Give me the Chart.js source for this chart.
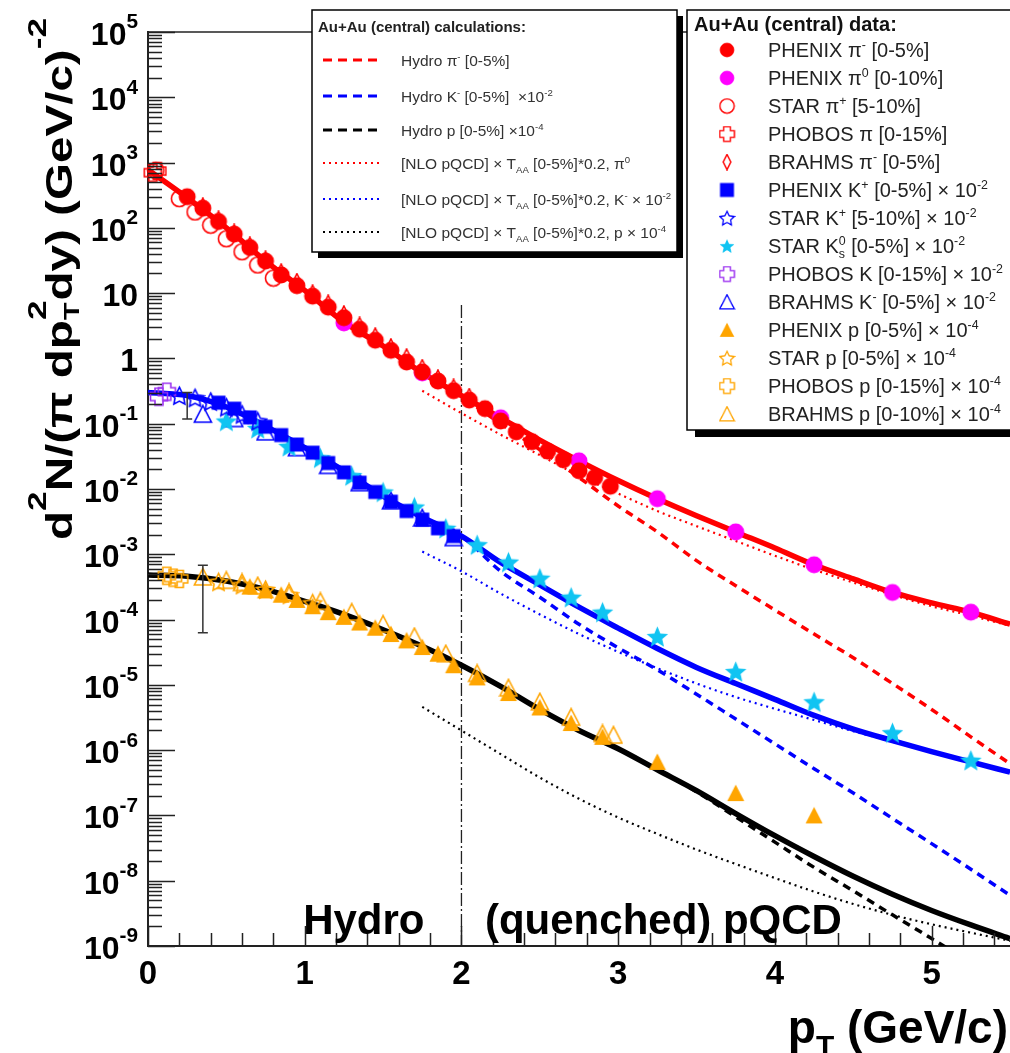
<!DOCTYPE html>
<html>
<head>
<meta charset="utf-8">
<script src="https://cdn.jsdelivr.net/npm/chart.js@4.4.0/dist/chart.umd.min.js"></script>
<style>
  html, body { margin: 0; padding: 0; background: #fff; }
  #wrap { width: 1010px; height: 1053px; }
</style>
</head>
<body>
<div id="wrap"><canvas id="chart" width="1010" height="1053"></canvas></div>
<script>
const FONT = '"Liberation Sans", Arial, Helvetica, sans-serif';
const RED = "#ff0000";
const MAGENTA = "#ff00ff";
const BLUE = "#0000ff";
const CYAN = "#10c4f2";
const PURPLE = "#9a2ff0";
const ORANGE = "#ffa500";
const BLACK = "#000000";

// ---- pions ----
const phenixPiPt = [0.25, 0.35, 0.45, 0.55, 0.65, 0.75, 0.85, 0.95, 1.05, 1.15, 1.25, 1.35, 1.45, 1.55, 1.65, 1.75, 1.85, 1.95, 2.05, 2.15, 2.25, 2.35, 2.45, 2.55, 2.65, 2.75, 2.85, 2.95];
const phenixPiVal = [300, 200, 125, 80, 50, 31, 19, 13, 9, 6.1, 4.2, 2.8, 1.9, 1.33, 0.88, 0.62, 0.45, 0.32, 0.23, 0.17, 0.11, 0.075, 0.053, 0.038, 0.028, 0.019, 0.015, 0.011];
const pi0Pt = [1.25, 1.75, 2.25, 2.75, 3.25, 3.75, 4.25, 4.75, 5.25];
const pi0Val = [3.5, 0.6, 0.123, 0.027, 0.0071, 0.0022, 6.9e-4, 2.6e-4, 1.3e-4];
const starPiPt = [0.05, 0.2, 0.3, 0.4, 0.5, 0.6, 0.7, 0.8];
const starPiVal = [760, 280, 175, 110, 68, 43, 27, 17];
const phobosPiPt = [0.03, 0.06];
const phobosPiVal = [700, 740];
const brahmsPiPt = [0.35, 0.45, 0.55, 0.65, 0.75, 0.85, 0.95, 1.05, 1.15, 1.25, 1.35, 1.45, 1.55, 1.65, 1.75, 1.85, 1.95, 2.05];
const brahmsPiVal = [215, 135, 85, 54, 33, 21, 15, 10, 7, 4.8, 3.2, 2.2, 1.5, 1.05, 0.72, 0.5, 0.36, 0.26];

// ---- kaons (x 10^-2) ----
const phenixKPt = [0.45, 0.55, 0.65, 0.75, 0.85, 0.95, 1.05, 1.15, 1.25, 1.35, 1.45, 1.55, 1.65, 1.75, 1.85, 1.95];
const phenixKVal = [0.21, 0.17, 0.125, 0.09, 0.067, 0.048, 0.036, 0.025, 0.018, 0.0125, 0.009, 0.0064, 0.0046, 0.0034, 0.0025, 0.0019];
const starKPt = [0.2, 0.3, 0.4, 0.5, 0.6, 0.7];
const starKVal = [0.27, 0.25, 0.22, 0.18, 0.14, 0.11];
const starK0Pt = [0.5, 0.7, 0.9, 1.1, 1.3, 1.5, 1.7, 1.9, 2.1, 2.3, 2.5, 2.7, 2.9, 3.25, 3.75, 4.25, 4.75, 5.25];
const starK0Val = [0.11, 0.085, 0.045, 0.03, 0.016, 0.009, 0.0053, 0.0025, 0.0014, 7.6e-4, 4.3e-4, 2.2e-4, 1.3e-4, 5.5e-5, 1.6e-5, 5.5e-6, 1.85e-6, 7e-7];
const phobosKPt = [0.07, 0.12];
const phobosKVal = [0.26, 0.31];
const brahmsKPt = [0.35, 0.55, 0.75, 0.95, 1.15, 1.35, 1.55, 1.75, 1.95];
const brahmsKVal = [0.14, 0.12, 0.075, 0.043, 0.023, 0.0125, 0.0066, 0.0036, 0.0018];

// ---- protons (x 10^-4) ----
const phenixPPt = [0.65, 0.75, 0.85, 0.95, 1.05, 1.15, 1.25, 1.35, 1.45, 1.55, 1.65, 1.75, 1.85, 1.95, 2.1, 2.3, 2.5, 2.7, 2.9, 3.25, 3.75, 4.25];
const phenixPVal = [3.2e-4, 2.8e-4, 2.4e-4, 2.0e-4, 1.6e-4, 1.3e-4, 1.1e-4, 9e-5, 7.5e-5, 6e-5, 4.8e-5, 3.8e-5, 3e-5, 2e-5, 1.3e-5, 7.5e-6, 4.5e-6, 2.6e-6, 1.6e-6, 6.6e-7, 2.2e-7, 1.0e-7];
const starPPt = [0.45, 0.6, 0.75, 0.9, 1.05];
const starPVal = [3.8e-4, 3.4e-4, 2.9e-4, 2.4e-4, 1.8e-4];
const phobosPPt = [0.12, 0.16, 0.2];
const phobosPVal = [4.7e-4, 4.4e-4, 4.2e-4];
const brahmsPPt = [0.35, 0.5, 0.6, 0.7, 0.9, 1.1, 1.3, 1.5, 1.7, 1.9, 2.1, 2.3, 2.5, 2.7, 2.9, 2.97];
const brahmsPVal = [4.5e-4, 4e-4, 3.7e-4, 3.3e-4, 2.6e-4, 1.9e-4, 1.3e-4, 8.5e-5, 5.5e-5, 3e-5, 1.5e-5, 9e-6, 5.5e-6, 3.2e-6, 1.8e-6, 1.7e-6];

// ---- calculations ----
const linePt = [0, 0.25, 0.5, 0.75, 1, 1.25, 1.5, 1.75, 2, 2.25, 2.5, 2.75, 3, 3.25, 3.5, 3.75, 4, 4.25, 4.5, 4.75, 5, 5.25, 5.5];
const piTotal = [780, 290, 100, 31, 11, 3.6, 1.55, 0.6, 0.27, 0.123, 0.056, 0.027, 0.0135, 0.0071, 0.0039, 0.0022, 0.00125, 6.9e-4, 4.2e-4, 2.6e-4, 1.8e-4, 1.3e-4, 8.5e-5];
const piHydro = [780, 290, 100, 31, 11, 3.6, 1.55, 0.6, 0.26, 0.1, 0.04, 0.015, 0.0055, 0.0022, 8e-4, 3.3e-4, 1.4e-4, 6e-5, 2.6e-5, 1.05e-5, 4.2e-6, 1.6e-6, 6.2e-7];
const kTotal = [0.3, 0.27, 0.18, 0.092, 0.043, 0.019, 0.0078, 0.0037, 0.0019, 7.5e-4, 3.4e-4, 1.55e-4, 7.4e-5, 3.6e-5, 1.85e-5, 1.05e-5, 6e-6, 3.4e-6, 2.1e-6, 1.4e-6, 9.5e-7, 6.6e-7, 4.6e-7];
const kHydro = [0.3, 0.27, 0.18, 0.092, 0.043, 0.019, 0.0078, 0.0037, 0.0019, 5.5e-4, 2.2e-4, 8.5e-5, 3.7e-5, 1.7e-5, 7.2e-6, 3e-6, 1.25e-6, 5.2e-7, 2.2e-7, 9e-8, 3.7e-8, 1.5e-8, 6e-9];
const pTotal = [4.8e-4, 4.6e-4, 3.9e-4, 2.9e-4, 1.9e-4, 1.2e-4, 7e-5, 3.9e-5, 2e-5, 9.5e-6, 4.2e-6, 2e-6, 1.05e-6, 5e-7, 2.4e-7, 1.07e-7, 4.9e-8, 2.35e-8, 1.17e-8, 6.2e-9, 3.5e-9, 2.1e-9, 1.3e-9];
const pHydro = [4.8e-4, 4.6e-4, 3.9e-4, 2.9e-4, 1.9e-4, 1.2e-4, 7e-5, 3.9e-5, 2e-5, 9.5e-6, 4.2e-6, 2e-6, 1.05e-6, 5e-7, 2.3e-7, 9.5e-8, 3.9e-8, 1.6e-8, 7e-9, 3e-9, 1.3e-9, 5.5e-10, 2.3e-10];
const pqcdPt = [1.75, 2, 2.25, 2.5, 2.75, 3, 3.25, 3.5, 3.75, 4, 4.25, 4.5, 4.75, 5, 5.25, 5.5];
const piPqcd = [0.32, 0.145, 0.068, 0.033, 0.016, 0.0085, 0.0046, 0.0027, 0.0016, 9.5e-4, 5.8e-4, 3.7e-4, 2.4e-4, 1.6e-4, 1.15e-4, 8e-5];
const kPqcd = [1.1e-3, 5.5e-4, 2.5e-4, 1.2e-4, 6e-5, 3.2e-5, 1.8e-5, 1.05e-5, 6.5e-6, 4.3e-6, 2.9e-6, 1.95e-6, 1.35e-6, 9.3e-7, 6.5e-7, 4.6e-7];
const pPqcd = [4.6e-6, 2e-6, 8.7e-7, 3.8e-7, 1.8e-7, 9.3e-8, 5.2e-8, 3e-8, 1.8e-8, 1.1e-8, 6.8e-9, 4.4e-9, 3e-9, 2.15e-9, 1.6e-9, 1.2e-9];

// hydro / pQCD boundary and error bars
const boundaryPt = [2, 2];
const boundaryVal = [6.6, 1e-9];
const errPt = [0.25, 0.35];
const errLo = [0.118, 6.3e-5];
const errHi = [0.3, 6.8e-4];

const yTickExp = [5, 4, 3, 2, 1, 0, -1, -2, -3, -4, -5, -6, -7, -8, -9];
const xTickLabels = [0, 1, 2, 3, 4, 5];

const pts = (xs, ys) => xs.map((x, i) => ({ x, y: ys[i] }));

function makeMarker(shape, color, filled, size) {
  const c = document.createElement("canvas");
  c.width = size;
  c.height = size;
  const g = c.getContext("2d");
  const m = size / 2;
  g.fillStyle = color;
  g.strokeStyle = color;
  g.lineWidth = 1.6;
  g.beginPath();
  if (shape === "circle") {
    g.arc(m, m, m - 1.5, 0, Math.PI * 2);
  } else if (shape === "square") {
    g.rect(1.5, 1.5, size - 3, size - 3);
  } else if (shape === "triangle") {
    g.moveTo(m, 1.5);
    g.lineTo(size - 1.5, size - 2);
    g.lineTo(1.5, size - 2);
    g.closePath();
  } else if (shape === "diamond") {
    g.moveTo(m, 1);
    g.lineTo(m + size * 0.22, m);
    g.lineTo(m, size - 1);
    g.lineTo(m - size * 0.22, m);
    g.closePath();
  } else if (shape === "cross") {
    const a = size * 0.2, e = 1.5, f = size - 1.5;
    g.moveTo(m - a, e); g.lineTo(m + a, e); g.lineTo(m + a, m - a); g.lineTo(f, m - a);
    g.lineTo(f, m + a); g.lineTo(m + a, m + a); g.lineTo(m + a, f); g.lineTo(m - a, f);
    g.lineTo(m - a, m + a); g.lineTo(e, m + a); g.lineTo(e, m - a); g.lineTo(m - a, m - a);
    g.closePath();
  } else if (shape === "star") {
    const ro = m - 1.2, ri = filled ? ro * 0.45 : ro * 0.5;
    for (let i = 0; i < 10; i++) {
      const r = i % 2 === 0 ? ro : ri;
      const a = -Math.PI / 2 + (i * Math.PI) / 5;
      const px = m + r * Math.cos(a), py = m + 1 + r * Math.sin(a);
      if (i === 0) g.moveTo(px, py); else g.lineTo(px, py);
    }
    g.closePath();
  }
  if (filled) g.fill(); else g.stroke();
  return c;
}

const MK = {
  phenixPi: makeMarker("circle", RED, true, 20),
  pi0: makeMarker("circle", MAGENTA, true, 20),
  starPi: makeMarker("circle", RED, false, 19),
  phobosPi: makeMarker("cross", RED, false, 20),
  brahmsPi: makeMarker("diamond", RED, false, 18),
  phenixK: makeMarker("square", BLUE, true, 17),
  starK: makeMarker("star", BLUE, false, 21),
  starK0: makeMarker("star", CYAN, true, 25),
  phobosK: makeMarker("cross", PURPLE, false, 20),
  brahmsK: makeMarker("triangle", BLUE, false, 20),
  phenixP: makeMarker("triangle", ORANGE, true, 20),
  starP: makeMarker("star", ORANGE, false, 21),
  phobosP: makeMarker("cross", ORANGE, false, 20),
  brahmsP: makeMarker("triangle", ORANGE, false, 20),
};

function pointSet(label, xs, ys, marker) {
  return {
    label, data: pts(xs, ys), pointStyle: marker, pointRadius: 8,
    showLine: false, order: 0, clip: false, marker,
  };
}

function lineSet(label, xs, ys, color, kind) {
  const ds = {
    label, data: pts(xs, ys), borderColor: color, backgroundColor: color,
    showLine: true, pointRadius: 0, order: 1, cubicInterpolationMode: "monotone", kind,
  };
  if (kind === "solid") ds.borderWidth = 5.5;
  if (kind === "dashed") { ds.borderWidth = 3.5; ds.borderDash = [8, 6]; }
  if (kind === "dotted") { ds.borderWidth = 2.2; ds.borderDash = [2, 4]; }
  return ds;
}

const dataSets = [
  pointSet("PHENIX π^{-} [0-5%]", phenixPiPt, phenixPiVal, MK.phenixPi),
  pointSet("PHENIX π^{0} [0-10%]", pi0Pt, pi0Val, MK.pi0),
  pointSet("STAR π^{+} [5-10%]", starPiPt, starPiVal, MK.starPi),
  pointSet("PHOBOS π [0-15%]", phobosPiPt, phobosPiVal, MK.phobosPi),
  pointSet("BRAHMS π^{-} [0-5%]", brahmsPiPt, brahmsPiVal, MK.brahmsPi),
  pointSet("PHENIX K^{+} [0-5%] × 10^{-2}", phenixKPt, phenixKVal, MK.phenixK),
  pointSet("STAR K^{+} [5-10%] × 10^{-2}", starKPt, starKVal, MK.starK),
  pointSet("STAR K^{0}_{s} [0-5%] × 10^{-2}", starK0Pt, starK0Val, MK.starK0),
  pointSet("PHOBOS K [0-15%] × 10^{-2}", phobosKPt, phobosKVal, MK.phobosK),
  pointSet("BRAHMS K^{-} [0-5%] × 10^{-2}", brahmsKPt, brahmsKVal, MK.brahmsK),
  pointSet("PHENIX p [0-5%] × 10^{-4}", phenixPPt, phenixPVal, MK.phenixP),
  pointSet("STAR p [0-5%] × 10^{-4}", starPPt, starPVal, MK.starP),
  pointSet("PHOBOS p [0-15%] × 10^{-4}", phobosPPt, phobosPVal, MK.phobosP),
  pointSet("BRAHMS p [0-10%] × 10^{-4}", brahmsPPt, brahmsPVal, MK.brahmsP),
];

const calcSets = [
  lineSet("Hydro π^{-} [0-5%]", linePt, piHydro, RED, "dashed"),
  lineSet("Hydro K^{-} [0-5%]  ×10^{-2}", linePt, kHydro, BLUE, "dashed"),
  lineSet("Hydro p [0-5%] ×10^{-4}", linePt, pHydro, BLACK, "dashed"),
  lineSet("[NLO pQCD] × T_{AA} [0-5%]*0.2, π^{0}", pqcdPt, piPqcd, RED, "dotted"),
  lineSet("[NLO pQCD] × T_{AA} [0-5%]*0.2, K^{-} × 10^{-2}", pqcdPt, kPqcd, BLUE, "dotted"),
  lineSet("[NLO pQCD] × T_{AA} [0-5%]*0.2, p × 10^{-4}", pqcdPt, pPqcd, BLACK, "dotted"),
];

const totalSets = [
  lineSet("pi total", linePt, piTotal, RED, "solid"),
  lineSet("K total", linePt, kTotal, BLUE, "solid"),
  lineSet("p total", linePt, pTotal, BLACK, "solid"),
];

const boundarySet = {
  label: "boundary", data: pts(boundaryPt, boundaryVal), borderColor: "#222",
  borderWidth: 1.3, borderDash: [13, 3, 2, 3], showLine: true, pointRadius: 0, order: 2,
};

function parseRich(str) {
  const out = [];
  let i = 0, buf = "";
  while (i < str.length) {
    const ch = str[i];
    if ((ch === "^" || ch === "_") && str[i + 1] === "{") {
      if (buf) { out.push({ text: buf, mode: "n" }); buf = ""; }
      const end = str.indexOf("}", i);
      out.push({ text: str.slice(i + 2, end), mode: ch === "^" ? "sup" : "sub" });
      i = end + 1;
    } else {
      buf += ch;
      i++;
    }
  }
  if (buf) out.push({ text: buf, mode: "n" });
  return out;
}

// opt: sup/sub scale and offsets, as fractions of the base size
function drawRich(ctx, str, x, y, size, weight, paint, opt) {
  const o = Object.assign({ supScale: 0.62, supRaise: 0.4, subScale: 0.62, subDrop: 0.25 }, opt || {});
  let cx = x, scriptStart = x, prev = "n";
  ctx.textAlign = "left";
  ctx.textBaseline = "alphabetic";
  parseRich(str).forEach((t) => {
    const fs = t.mode === "n" ? size : size * (t.mode === "sup" ? o.supScale : o.subScale);
    ctx.font = weight + " " + fs + "px " + FONT;
    const w = ctx.measureText(t.text).width;
    const stacked = t.mode === "sub" && prev === "sup";
    const sx = stacked ? scriptStart : cx;
    const dy = t.mode === "sup" ? -size * o.supRaise : t.mode === "sub" ? size * o.subDrop : 0;
    if (paint) ctx.fillText(t.text, sx, y + dy);
    if (stacked) cx = Math.max(cx, sx + w);
    else { scriptStart = sx; cx = sx + w; }
    prev = t.mode;
  });
  return cx - x;
}

const decorPlugin = {
  id: "decor",
  afterDatasetsDraw(chart) {
    const { ctx, chartArea, scales } = chart;
    const xs = scales.x, ys = scales.y;
    ctx.save();
    ctx.strokeStyle = "#222";
    ctx.lineWidth = 1.5;
    // top frame
    ctx.beginPath();
    ctx.moveTo(chartArea.left, chartArea.top);
    ctx.lineTo(chartArea.right, chartArea.top);
    ctx.stroke();
    // y ticks (inside)
    ctx.beginPath();
    for (let e = -9; e <= 5; e++) {
      for (let k = 1; k <= 9; k++) {
        if (e === 5 && k > 1) break;
        const py = Math.round(ys.getPixelForValue(k * Math.pow(10, e))) + 0.5;
        ctx.moveTo(chartArea.left, py);
        ctx.lineTo(chartArea.left + (k === 1 ? 27 : 14), py);
      }
    }
    // x ticks (inside)
    for (let i = 0; i <= 27; i++) {
      const px = Math.round(xs.getPixelForValue(i * 0.2)) + 0.5;
      ctx.moveTo(px, chartArea.bottom);
      ctx.lineTo(px, chartArea.bottom - (i % 5 === 0 ? 20 : 13));
    }
    ctx.stroke();
    // error bars
    ctx.strokeStyle = "#333";
    ctx.beginPath();
    errPt.forEach((p, i) => {
      const px = xs.getPixelForValue(p);
      const y1 = ys.getPixelForValue(errLo[i]), y2 = ys.getPixelForValue(errHi[i]);
      ctx.moveTo(px, y1); ctx.lineTo(px, y2);
      ctx.moveTo(px - 5, y1); ctx.lineTo(px + 5, y1);
      ctx.moveTo(px - 5, y2); ctx.lineTo(px + 5, y2);
    });
    ctx.stroke();
    ctx.restore();
  },
  afterDraw(chart) {
    const { ctx, chartArea, scales } = chart;
    const xs = scales.x, ys = scales.y;
    ctx.save();
    ctx.fillStyle = "#000";
    // y tick labels
    const tickOpt = { supScale: 0.65, supRaise: 0.52 };
    yTickExp.forEach((e) => {
      const py = ys.getPixelForValue(Math.pow(10, e));
      const lab = e === 0 ? "1" : e === 1 ? "10" : "10^{" + e + "}";
      const w = drawRich(ctx, lab, 0, 0, 32, "bold", false, tickOpt);
      drawRich(ctx, lab, 138 - w, py + 13, 32, "bold", true, tickOpt);
    });
    // x tick labels
    ctx.font = "bold 33px " + FONT;
    ctx.textAlign = "center";
    xTickLabels.forEach((v) => {
      ctx.fillText(String(v), xs.getPixelForValue(v), chartArea.bottom + 38);
    });
    // region labels
    ctx.font = "bold 42px " + FONT;
    ctx.textAlign = "left";
    ctx.fillText("Hydro", xs.getPixelForValue(0.99), chartArea.bottom - 12);
    ctx.fillText("(quenched) pQCD", xs.getPixelForValue(2.15), chartArea.bottom - 12);
    // x title
    const xt = "p_{T} (GeV/c)";
    const xOpt = { subScale: 0.65, subDrop: 0.28 };
    const xw = drawRich(ctx, xt, 0, 0, 46, "bold", false, xOpt);
    drawRich(ctx, xt, 1008 - xw, 1043, 46, "bold", true, xOpt);
    // y title (rotated, stretched along the text)
    const yt = "d^{2}N/(π dp^{2}_{T}dy) (GeV/c)^{-2}";
    const yOpt = { supScale: 0.74, supRaise: 0.72, subScale: 0.6, subDrop: 0.2 };
    const yw = drawRich(ctx, yt, 0, 0, 36, "bold", false, yOpt);
    ctx.save();
    ctx.translate(72, 540);
    ctx.rotate(-Math.PI / 2);
    ctx.scale(522 / yw, 1);
    drawRich(ctx, yt, 0, 0, 36, "bold", true, yOpt);
    ctx.restore();

    // calculations legend
    let bx = 312, by = 10, bw = 365, bh = 242;
    ctx.fillStyle = "#000";
    ctx.fillRect(bx + 6, by + 6, bw, bh);
    ctx.fillStyle = "#fff";
    ctx.fillRect(bx, by, bw, bh);
    ctx.strokeStyle = "#000";
    ctx.lineWidth = 1.5;
    ctx.strokeRect(bx, by, bw, bh);
    ctx.fillStyle = "#222";
    drawRich(ctx, "Au+Au (central) calculations:", 318, 32, 15, "bold", true);
    const calcRows = [60, 96, 130, 163, 199, 232];
    calcSets.forEach((ds, i) => {
      const yc = calcRows[i];
      ctx.save();
      ctx.strokeStyle = ds.borderColor;
      if (ds.kind === "dashed") { ctx.lineWidth = 3; ctx.setLineDash([9, 6]); }
      else { ctx.lineWidth = 2; ctx.setLineDash([2, 4]); }
      ctx.beginPath();
      ctx.moveTo(323, yc);
      ctx.lineTo(379, yc);
      ctx.stroke();
      ctx.restore();
      ctx.fillStyle = "#333";
      drawRich(ctx, ds.label, 401, yc + 6, 15.5, "normal", true);
    });

    // data legend
    bx = 687; by = 10; bw = 330; bh = 420;
    ctx.fillStyle = "#000";
    ctx.fillRect(bx + 8, by + 7, bw, bh);
    ctx.fillStyle = "#fff";
    ctx.fillRect(bx, by, bw, bh);
    ctx.strokeStyle = "#000";
    ctx.lineWidth = 1.5;
    ctx.strokeRect(bx, by, bw, bh);
    ctx.fillStyle = "#111";
    drawRich(ctx, "Au+Au (central) data:", 694, 31, 20, "bold", true);
    dataSets.forEach((ds, i) => {
      const yc = 50 + 28 * i;
      const s = 17;
      ctx.drawImage(ds.marker, 727 - s / 2, yc - s / 2, s, s);
      ctx.fillStyle = "#222";
      drawRich(ctx, ds.label, 768, yc + 7, 20, "normal", true);
    });
    ctx.restore();
  },
};

new Chart(document.getElementById("chart"), {
  type: "scatter",
  data: { datasets: [...dataSets, ...calcSets, ...totalSets, boundarySet] },
  options: {
    responsive: false,
    animation: false,
    devicePixelRatio: 1,
    events: [],
    layout: { autoPadding: false, padding: { top: 32, left: 0, right: 0, bottom: 0 } },
    plugins: { legend: { display: false }, tooltip: { enabled: false } },
    scales: {
      x: {
        type: "linear", min: 0, max: 5.5,
        grid: { display: false }, ticks: { display: false },
        border: { color: "#222", width: 2 },
        afterFit: (s) => { s.height = 107; s.paddingLeft = 0; s.paddingRight = 0; },
      },
      y: {
        type: "logarithmic", min: 1e-9, max: 1e5,
        grid: { display: false }, ticks: { display: false },
        border: { color: "#222", width: 2 },
        afterFit: (s) => { s.width = 148; s.paddingTop = 0; s.paddingBottom = 0; },
      },
    },
  },
  plugins: [decorPlugin],
});
</script>
</body>
</html>
